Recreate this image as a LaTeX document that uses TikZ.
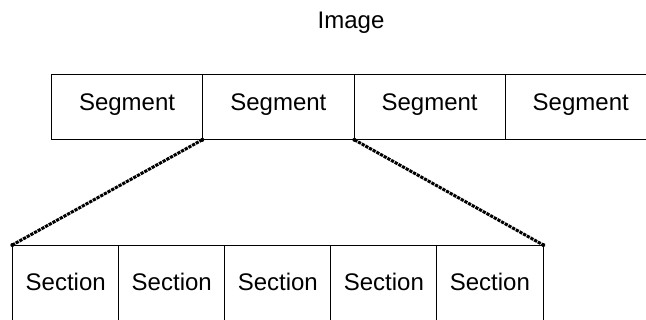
\documentclass[tikz,border=0pt]{standalone}
\usepackage{fontspec}
\setmainfont{Liberation Sans}
\begin{document}
\begin{tikzpicture}[x=1pt,y=1pt,
  every node/.style={font=\fontsize{24}{28}\selectfont},
  segbox/.style={rectangle,draw=black,line width=0.8pt,inner sep=0pt,anchor=north west,
    minimum width=151.3pt,text height=36pt,text depth=29pt},
  segopen/.style={rectangle,inner sep=0pt,anchor=north west,
    minimum width=151.3pt,text height=36pt,text depth=29pt},
  secbox/.style={rectangle,draw=black,line width=0.8pt,inner sep=0pt,anchor=north west,
    minimum width=106.04pt,text height=45pt,text depth=45pt},
  chain/.style={line width=3pt,dash pattern=on 3.2pt off 1pt,black},
  boxline/.style={draw=black,line width=0.8pt}]
\clip (0,0) rectangle (646,-320);
\useasboundingbox (0,0) rectangle (646,-320);
\node[anchor=base] (img) at (351,-28.3) {Image};
\node[segbox] (seg1) at (51,-74) {Segment};
\node[segbox] (seg2) at (202.3,-74) {Segment};
\node[segbox] (seg3) at (353.6,-74) {Segment};
\node[segopen] (seg4) at (504.9,-74) {Segment};
\draw[boxline] (seg4.north east) -- (seg4.north west) -- (seg4.south west) -- (seg4.south east);
\foreach \i/\n in {0/sec1,1/sec2,2/sec3,3/sec4,4/sec5}{
  \node[secbox] (\n) at (12.3+\i*106.04,-245) {Section};
}
\draw[chain] (seg2.south west) -- (sec1.north west);
\draw[chain] (seg2.south east) -- (sec5.north east);
\fill (seg2.south west) circle (2);
\fill (seg2.south east) circle (2);
\fill (sec1.north west) circle (2);
\fill (sec5.north east) circle (2);
\end{tikzpicture}
\end{document}
